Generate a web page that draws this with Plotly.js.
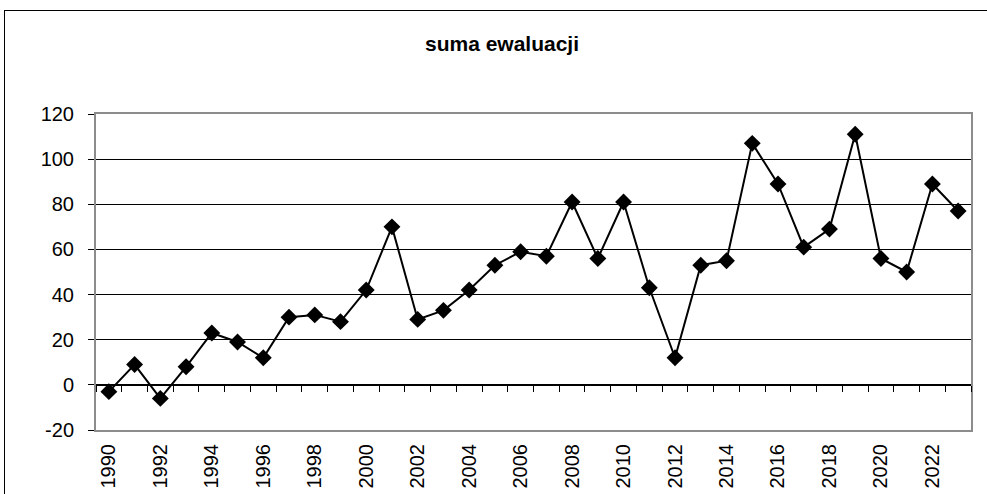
<!DOCTYPE html>
<html>
<head>
<meta charset="utf-8">
<script src="https://cdn.plot.ly/plotly-3.0.1.min.js"></script>
<style>
html,body{margin:0;padding:0;background:#fff;}
#wrap{position:relative;width:987px;height:494px;overflow:hidden;}
#chart{position:absolute;left:0;top:0;width:987px;height:494px;}
#frame{position:absolute;left:4px;top:10px;width:1100px;height:600px;border:1px solid #000;pointer-events:none;}
</style>
</head>
<body>
<div id="wrap"><div id="chart"></div><div id="frame"></div></div>
<script>
const years = ['1990','1991','1992','1993','1994','1995','1996','1997','1998','1999','2000','2001','2002','2003','2004','2005','2006','2007','2008','2009','2010','2011','2012','2013','2014','2015','2016','2017','2018','2019','2020','2021','2022','2023'];
const values = [-3, 9, -6, 8, 23, 19, 12, 30, 31, 28, 42, 70, 29, 33, 42, 53, 59, 57, 81, 56, 81, 43, 12, 53, 55, 107, 89, 61, 69, 111, 56, 50, 89, 77];
const tickLabels = ['1990','1992','1994','1996','1998','2000','2002','2004','2006','2008','2010','2012','2014','2016','2018','2020','2022'];
const yTicks = [-20, 0, 20, 40, 60, 80, 100, 120];
const yTickText = ['-20', '0', '20', '40', '60', '80', '100', '120'];

const trace = {
  x: years, y: values, type: 'scatter', mode: 'lines+markers',
  line: {color: '#000', width: 2},
  marker: {symbol: 'diamond', size: 13, color: '#000'},
  cliponaxis: false, showlegend: false
};
// invisible trace to activate the zero-crossing axis
const trace2 = {x: years, y: values, xaxis: 'x2', type: 'scatter', mode: 'none', showlegend: false, hoverinfo: 'skip'};

const layout = {
  width: 987, height: 494,
  margin: {l: 96, r: 16, t: 114, b: 64},
  paper_bgcolor: '#fff', plot_bgcolor: '#fff',
  font: {family: 'Liberation Sans, Arial, sans-serif', color: '#000', size: 20},
  title: {text: '<b>suma ewaluacji</b>', font: {size: 21, color: '#000'}, xref: 'container', x: 502/987, xanchor: 'center', yref: 'container', y: 1 - 44/494, yanchor: 'middle'},
  xaxis: {
    type: 'category', categoryorder: 'array', categoryarray: years,
    range: [-0.5, years.length - 0.5],
    tickmode: 'array', tickvals: tickLabels, ticktext: tickLabels,
    tickangle: -90, ticks: '', showgrid: false, zeroline: false,
    showline: true, linecolor: '#8c8c8c', linewidth: 2, mirror: true,
    tickfont: {size: 20}, ticklabelstandoff: 4
  },
  xaxis2: {
    type: 'category', categoryorder: 'array', categoryarray: years,
    range: [-0.5, years.length - 0.5],
    overlaying: 'x', anchor: 'free', position: 20/140,
    tickson: 'boundaries', ticks: 'outside', ticklen: 6, tickcolor: '#000', tickwidth: 1,
    showticklabels: false, showgrid: false, zeroline: false,
    showline: true, linecolor: '#000', linewidth: 1.5
  },
  yaxis: {
    range: [-20, 120], tickmode: 'array', tickvals: yTicks, ticktext: yTickText,
    ticks: 'outside', ticklen: 6, tickcolor: '#000',
    showgrid: true, gridcolor: '#000', gridwidth: 1,
    zeroline: false,
    showline: true, linecolor: '#8c8c8c', linewidth: 2, mirror: true,
    tickfont: {size: 20}, ticklabelstandoff: 10
  }
};
Plotly.newPlot('chart', [trace, trace2], layout, {staticPlot: true});
</script>
</body>
</html>
